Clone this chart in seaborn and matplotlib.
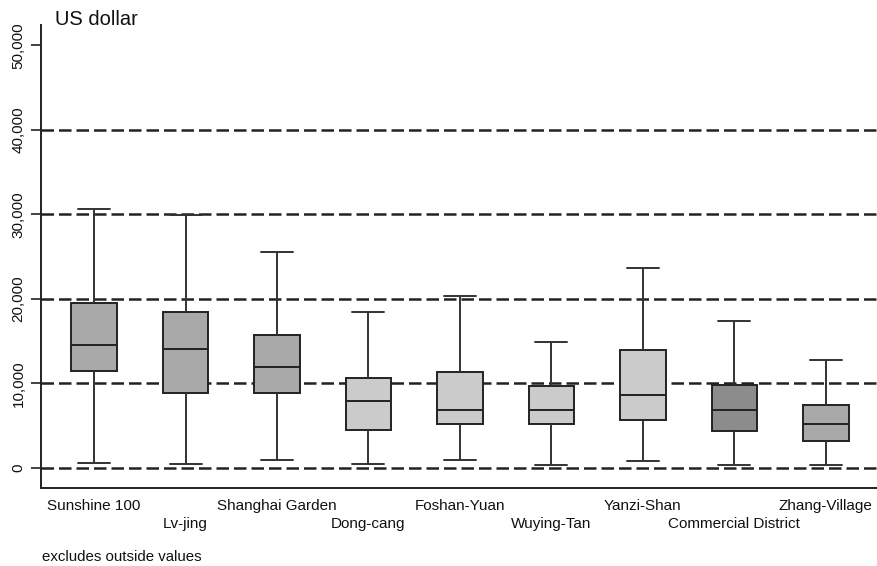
import numpy as np
import pandas as pd
import matplotlib
matplotlib.use("Agg")
import matplotlib.pyplot as plt
import seaborn as sns

# Housing price per district (US dollar): whisker low, Q1, median, Q3, whisker high
districts = ["Sunshine 100", "Lv-jing", "Shanghai Garden", "Dong-cang", "Foshan-Yuan",
             "Wuying-Tan", "Yanzi-Shan", "Commercial District", "Zhang-Village"]
whisker_low = [590, 470, 950, 470, 950, 350, 830, 350, 350]
q1 = [11480, 8880, 8880, 4500, 5200, 5200, 5680, 4380, 3200]
median = [14560, 14080, 11950, 7930, 6860, 6860, 8640, 6860, 5210]
q3 = [19530, 18460, 15740, 10650, 11360, 9700, 13960, 9820, 7460]
whisker_high = [30650, 29940, 25560, 18460, 20360, 14900, 23670, 17400, 12780]
box_colors = ["#a9a9a9", "#a9a9a9", "#a9a9a9", "#cbcbcb", "#cbcbcb",
              "#cbcbcb", "#cbcbcb", "#8c8c8c", "#a9a9a9"]
y_ticks = [0, 10000, 20000, 30000, 40000, 50000]
y_tick_labels = ["0", "10,000", "20,000", "30,000", "40,000", "50,000"]

# Five values per district reproduce the summary exactly with linear quantiles
rows = []
for name, lo, a, m, b, hi in zip(districts, whisker_low, q1, median, q3, whisker_high):
    for v in (lo, a, m, b, hi):
        rows.append({"district": name, "price": v})
df = pd.DataFrame(rows)

sns.set_style("white")
plt.rcParams["font.family"] = ["Liberation Sans", "DejaVu Sans"]

fig = plt.figure(figsize=(8.78, 5.66), dpi=100)
ax = fig.add_axes([0.0467, 0.1378, 0.9533, 0.818])

# Dashed reference lines
for v in y_ticks[:-1]:
    ax.axhline(v, color="#222222", lw=1.8, ls=(0, (5, 2)), zorder=0)

line_kw = dict(color="#333333", linewidth=1.4)
sns.boxplot(data=df, x="district", y="price", hue="district", palette=box_colors,
            legend=False, whis=(0, 100), width=0.5, ax=ax, linecolor="#222222",
            linewidth=1.4, fliersize=0,
            whiskerprops=line_kw, capprops=dict(color="#333333", linewidth=1.4),
            medianprops=dict(color="#222222", linewidth=1.4),
            boxprops=dict(edgecolor="#222222", linewidth=1.4))
for patch in ax.patches:
    patch.set_zorder(2)

# Widen the whisker caps
for line in ax.lines:
    xs, ys = line.get_xdata(), line.get_ydata()
    if len(xs) == 2 and ys[0] == ys[1] and abs(xs[1] - xs[0]) < 0.3:
        c = (xs[0] + xs[1]) / 2
        line.set_xdata([c - 0.175, c + 0.175])

ax.set_xlim(-0.58, 8.57)
ax.set_ylim(-2400, 52400)
ax.set_yticks(y_ticks)
ax.set_yticklabels(y_tick_labels, rotation=90, va="center", fontsize=11)
ax.set_xticks(range(len(districts)))
ax.set_xticklabels(districts, fontsize=11)
ax.tick_params(axis="y", direction="out", length=7, width=1.2, color="#222222",
               pad=4, labelcolor="#111111", left=True)
ax.tick_params(axis="x", length=0, pad=8, labelcolor="#111111")
# Stagger alternate category labels onto a second row
for i, tick in enumerate(ax.xaxis.get_major_ticks()):
    if i % 2 == 1:
        tick.set_pad(21)
ax.set_xlabel("")
ax.set_ylabel("")

for side in ("top", "right"):
    ax.spines[side].set_visible(False)
for side in ("left", "bottom"):
    ax.spines[side].set_color("#222222")
    ax.spines[side].set_linewidth(1.4)

fig.text(0.063, 0.965, "US dollar", fontsize=14.5, color="#111111", va="center")
fig.text(0.048, 0.016, "excludes outside values", fontsize=10.8, color="#111111", va="center")

fig.savefig("out.png", dpi=100)
